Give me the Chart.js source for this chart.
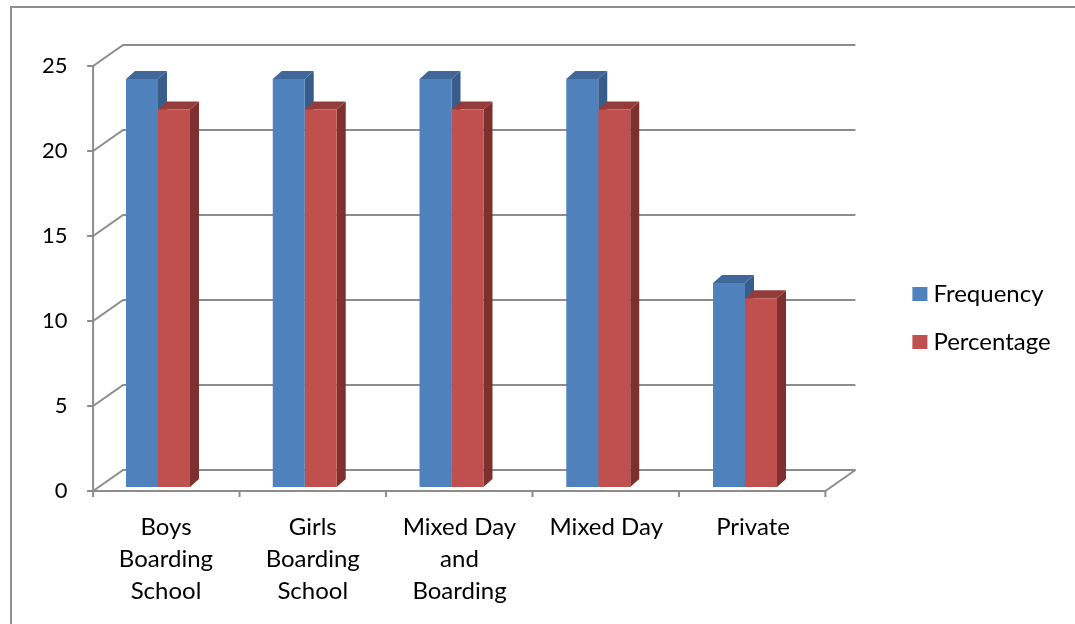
<!DOCTYPE html>
<html>
<head>
<meta charset="utf-8">
<script src="https://cdn.jsdelivr.net/npm/chart.js@4.4.1/dist/chart.umd.min.js"></script>
<style>
  html, body { margin: 0; padding: 0; background: #fff; overflow: hidden; }
  #wrap { position: relative; width: 1075px; height: 624px; overflow: hidden; }
  #frame { position: absolute; left: 10px; top: 6px; width: 1200px; height: 800px; border: 2px solid #8e8e8e; }
  canvas { position: absolute; left: 0; top: 0; }
</style>
</head>
<body>
<div id="wrap">
  <div id="frame"></div>
  <canvas id="chart" width="1075" height="624"></canvas>
</div>
<script>
// data
const categories = [['Boys', 'Boarding', 'School'], ['Girls', 'Boarding', 'School'], ['Mixed Day', 'and', 'Boarding'], 'Mixed Day', 'Private'];
const frequency = [24, 24, 24, 24, 12];
const percentage = [22.2, 22.2, 22.2, 22.2, 11.1];
const seriesNames = ['Frequency', 'Percentage'];
const yTicks = [0, 5, 10, 15, 20, 25];

const font = { family: 'Lato', size: 24 };
const tickFont = { family: 'Lato', size: 22 };
const lineCol = '#8c8c8c';
const faces = [
  { front: '#4f81bd', top: '#3f679a', side: '#385d8a' },
  { front: '#c0504d', top: '#943c3a', side: '#7e302e' }
];

// depth of the walls and of the bars
const wall = { dx: 30, dy: -21, front: 4 };
const bar = { dx: 9, dy: -8 };

function line(ctx, pts) {
  ctx.beginPath();
  ctx.moveTo(pts[0][0], pts[0][1]);
  for (let i = 1; i < pts.length; i++) ctx.lineTo(pts[i][0], pts[i][1]);
  ctx.stroke();
}

function poly(ctx, pts, col) {
  ctx.beginPath();
  ctx.moveTo(pts[0][0], pts[0][1]);
  for (let i = 1; i < pts.length; i++) ctx.lineTo(pts[i][0], pts[i][1]);
  ctx.closePath();
  ctx.fillStyle = col;
  ctx.fill();
}

const threeD = {
  id: 'threeD',
  beforeDatasetsDraw(chart) {
    const { ctx, chartArea: a, scales: { y } } = chart;
    const fL = a.left + 8.5;
    const fR = a.right + 7;
    const y0 = y.getPixelForValue(0) + wall.front;
    ctx.save();
    ctx.strokeStyle = lineCol;
    ctx.lineWidth = 2;

    // back wall grid + left wall diagonals + y tick marks
    yTicks.forEach(v => {
      const yy = y.getPixelForValue(v) + wall.front;
      line(ctx, [[fL, yy], [fL + wall.dx, yy + wall.dy], [fR + wall.dx, yy + wall.dy]]);
      line(ctx, [[fL - 6, yy], [fL, yy]]);
    });
    // front axis
    line(ctx, [[fL, y0], [fL, y.getPixelForValue(yTicks[yTicks.length - 1]) + wall.front]]);
    // floor front edge
    line(ctx, [[fL, y0], [fR, y0], [fR + wall.dx, y0 + wall.dy]]);
    // category tick marks
    const n = categories.length;
    for (let i = 0; i <= n; i++) {
      const xx = fL + i * (fR - fL) / n;
      line(ctx, [[xx, y0], [xx, y0 + 6]]);
    }

    // side and top faces of the bars (fronts drawn by Chart.js on top)
    chart.data.datasets.forEach((ds, di) => {
      const meta = chart.getDatasetMeta(di);
      meta.data.forEach(el => {
        const p = el.getProps(['x', 'y', 'base', 'width'], true);
        const l = p.x - p.width / 2, r = p.x + p.width / 2;
        poly(ctx, [[r, p.y], [r + bar.dx, p.y + bar.dy], [r + bar.dx, p.base + bar.dy], [r, p.base]], faces[di].side);
        poly(ctx, [[l, p.y], [l + bar.dx, p.y + bar.dy], [r + bar.dx, p.y + bar.dy], [r, p.y]], faces[di].top);
      });
    });
    ctx.restore();
  },
  afterDraw(chart) {
    const { ctx, chartArea: a } = chart;
    const lx = a.right + 94;
    let ly = a.top + 232;
    ctx.save();
    ctx.font = font.size + 'px ' + font.family;
    ctx.textBaseline = 'middle';
    chart.data.datasets.forEach((ds, di) => {
      ctx.fillStyle = faces[di].front;
      ctx.fillRect(lx, ly - 7, 15, 14);
      ctx.fillStyle = '#000';
      ctx.fillText(ds.label, lx + 21, ly);
      ly += 48;
    });
    ctx.restore();
  }
};

new Chart(document.getElementById('chart'), {
  type: 'bar',
  data: {
    labels: categories,
    datasets: [
      { label: seriesNames[0], data: frequency, backgroundColor: faces[0].front },
      { label: seriesNames[1], data: percentage, backgroundColor: faces[1].front }
    ]
  },
  options: {
    responsive: false,
    animation: false,
    devicePixelRatio: 1,
    layout: { padding: { left: 30, top: 62, right: 256.6, bottom: 0 } },
    datasets: { bar: { barPercentage: 1, categoryPercentage: 0.436, borderWidth: 0 } },
    plugins: { legend: { display: false }, tooltip: { enabled: false } },
    scales: {
      x: {
        grid: { display: false, drawTicks: false },
        border: { display: false },
        ticks: { font: { ...font, lineHeight: 32 / 24 }, color: '#000', padding: 24, labelOffset: 8, maxRotation: 0, autoSkip: false },
        afterFit: s => { s.height = 137; }
      },
      y: {
        min: 0,
        max: 25,
        grid: { display: false, drawTicks: false },
        border: { display: false },
        ticks: { stepSize: 5, font: tickFont, color: '#000', padding: 17, labelOffset: 4 },
        afterFit: s => { s.width = 54.6; }
      }
    }
  },
  plugins: [threeD]
});
</script>
</body>
</html>
